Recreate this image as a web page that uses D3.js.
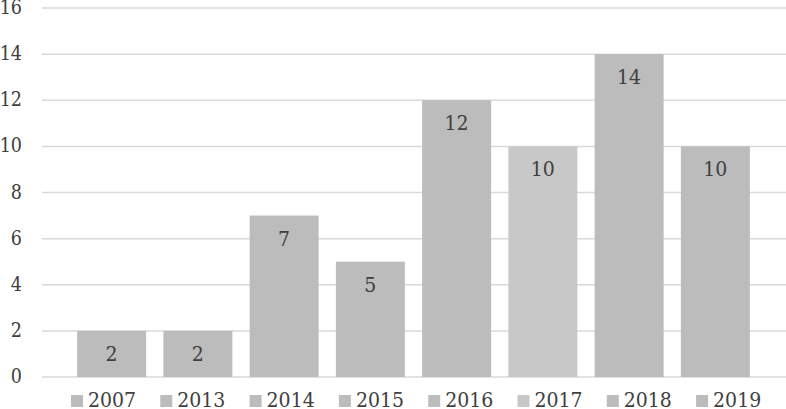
<!DOCTYPE html>
<html>
<head>
<meta charset="utf-8">
<script src="https://cdn.jsdelivr.net/npm/d3@7"></script>
<style>
  body { margin: 0; }
  svg text { font-family: "DejaVu Serif Condensed", "DejaVu Serif", serif; font-stretch: condensed; fill: #404040; }
</style>
</head>
<body>
<svg id="chart" width="786" height="409"></svg>
<script>
const years = ["2007", "2013", "2014", "2015", "2016", "2017", "2018", "2019"];
const counts = [2, 2, 7, 5, 12, 10, 14, 10];
const barColors = ["#bcbcbc", "#bcbcbc", "#bcbcbc", "#bcbcbc", "#bcbcbc", "#c8c8c8", "#bcbcbc", "#bcbcbc"];
const yTicks = [0, 2, 4, 6, 8, 10, 12, 14, 16];

let svg = d3.select("#chart");

let x = d3.scaleBand()
    .domain(years)
    .range([68.5, 758.5])
    .paddingInner(0.2)
    .paddingOuter(0.1);

let y = d3.scaleLinear()
    .domain([0, 16])
    .range([377, 8]);

// gridlines
svg.append("g")
    .selectAll("line")
    .data(yTicks)
    .join("line")
    .attr("x1", 42)
    .attr("x2", 786)
    .attr("y1", d => y(d))
    .attr("y2", d => y(d))
    .attr("stroke", "#d9d9d9")
    .attr("stroke-width", 1.5);

// y tick labels
svg.append("g")
    .selectAll("text")
    .data(yTicks)
    .join("text")
    .attr("x", 22)
    .attr("y", d => y(d) + 6)
    .attr("text-anchor", "end")
    .attr("font-size", 19.5)
    .text(d => d);

// bars
svg.append("g")
    .selectAll("rect")
    .data(years)
    .join("rect")
    .attr("x", d => x(d))
    .attr("width", x.bandwidth())
    .attr("y", (d, i) => y(counts[i]))
    .attr("height", (d, i) => y(0) - y(counts[i]))
    .attr("fill", (d, i) => barColors[i]);

// value labels
svg.append("g")
    .selectAll("text")
    .data(years)
    .join("text")
    .attr("x", d => x(d) + x.bandwidth() / 2)
    .attr("y", (d, i) => y(counts[i]) + 30)
    .attr("text-anchor", "middle")
    .attr("font-size", 21)
    .text((d, i) => counts[i]);

// legend
let legend = svg.append("g")
    .selectAll("g")
    .data(years)
    .join("g")
    .attr("transform", (d, i) => `translate(${71 + i * 89.3}, 0)`);

legend.append("rect")
    .attr("x", 0)
    .attr("y", 395)
    .attr("width", 12)
    .attr("height", 12)
    .attr("fill", (d, i) => barColors[i]);

legend.append("text")
    .attr("x", 17)
    .attr("y", 407)
    .attr("font-size", 21)
    .text(d => d);
</script>
</body>
</html>
